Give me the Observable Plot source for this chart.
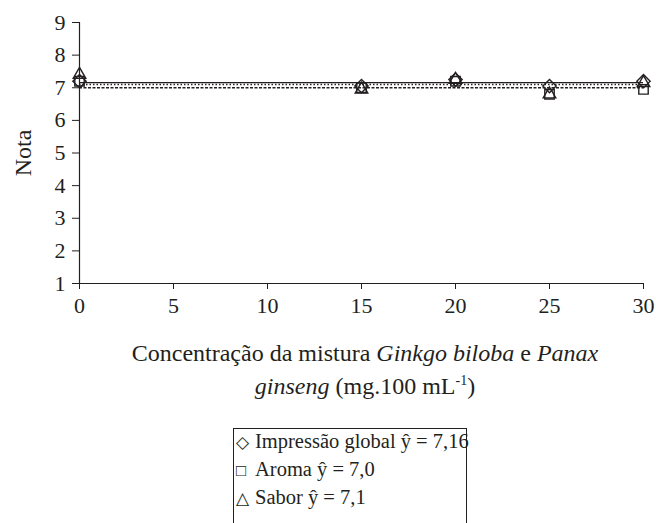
<!DOCTYPE html>
<html>
<head>
<meta charset="utf-8">
<script src="https://cdn.jsdelivr.net/npm/d3@7"></script>
<script src="https://cdn.jsdelivr.net/npm/@observablehq/plot@0.6"></script>
<style>
  body { margin: 0; background: #fff; font-family: 'Liberation Serif', serif; color: #231f20; }
  #wrap { position: relative; width: 656px; height: 523px; overflow: hidden; }
  #chart svg { font-family: 'Liberation Serif', serif !important; }
  #xlabel { position: absolute; left: 40px; width: 650px; top: 340px; text-align: center; font-size: 24px; line-height: 27px; }
  #legend { position: absolute; left: 233px; top: 428px; width: 232px; height: 110px; border: 1.2px solid #231f20; font-size: 20.5px; }
  #legend div { position: absolute; left: 2px; white-space: nowrap; }
  #legend .sym { display: inline-block; width: 19px; font-size: 17px; }
</style>
</head>
<body>
<div id="wrap">
  <div id="chart"></div>
  <div id="xlabel">Concentração da mistura <i>Ginkgo biloba</i> e <i>Panax</i><br><i>ginseng</i> (mg.100 mL<sup style="font-size:14px">-1</sup>)</div>
  <div id="legend"></div>
</div>
<script>
const concentrations = [0, 15, 20, 25, 30];
const impressaoGlobal = [7.2, 7.05, 7.25, 7.05, 7.2];
const aroma = [7.2, 7.0, 7.2, 6.8, 6.95];
const sabor = [7.4, 6.95, 7.25, 6.8, 7.15];
const seriesNames = ["Impressão global", "Aroma", "Sabor"];
const seriesMeans = [7.16, 7.0, 7.1];
const meanLabels = ["7,16", "7,0", "7,1"];
const seriesSymbols = ["diamond2", "square2", "triangle2"];
const legendGlyphs = ["◇", "□", "△"];
const xTicks = [0, 5, 10, 15, 20, 25, 30];
const yTicks = [1, 2, 3, 4, 5, 6, 7, 8, 9];

const seriesValues = [impressaoGlobal, aroma, sabor];
const points = [];
seriesValues.forEach((vals, i) => vals.forEach((v, j) => points.push({x: concentrations[j], y: v, s: seriesNames[i]})));
const means = seriesNames.map((s, i) => ({s, y: seriesMeans[i]}));

const ink = "#231f20";
const chart = Plot.plot({
  width: 656,
  height: 330,
  marginLeft: 79,
  marginRight: 13,
  marginTop: 22,
  marginBottom: 47,
  style: {fontFamily: "'Liberation Serif', serif", fontSize: "22px", color: ink, background: "#fff"},
  x: {domain: [0, 30]},
  y: {domain: [1, 9]},
  symbol: {domain: seriesNames, range: seriesSymbols},
  marks: [
    Plot.axisX({ticks: xTicks, tickSize: 6, tickPadding: 8, stroke: ink, fill: ink, fontSize: 22, label: null}),
    Plot.axisY({ticks: yTicks, tickSize: 7, tickPadding: 7, stroke: ink, fill: ink, fontSize: 22, label: "Nota", labelAnchor: "center", labelOffset: 66, labelArrow: "none", labelFontSize: 24}),
    Plot.ruleY([1], {stroke: ink, strokeWidth: 1.2}),
    Plot.ruleX([0], {stroke: ink, strokeWidth: 1.2}),
    Plot.ruleY(means.slice(0, 1), {y: "y", x1: 0, x2: 30, stroke: ink, strokeWidth: 1.3}),
    Plot.ruleY(means.slice(1, 2), {y: "y", x1: 0, x2: 30, stroke: ink, strokeWidth: 1.3, strokeDasharray: "3,1.5"}),
    Plot.ruleY(means.slice(2, 3), {y: "y", x1: 0, x2: 30, stroke: ink, strokeWidth: 1.3, strokeDasharray: "1.5,2"}),
    Plot.dot(points, {x: "x", y: "y", symbol: "s", r: 6, stroke: ink, strokeWidth: 1.4, fill: "none"})
  ]
});
document.getElementById("chart").appendChild(chart);
// enlarge the y-axis title to match the reference
chart.querySelectorAll("[aria-label='y-axis label'] text, [aria-label='y-axis label']").forEach(el => el.setAttribute("font-size", 24));

const legend = document.getElementById("legend");
seriesNames.forEach((name, i) => {
  const row = document.createElement("div");
  row.style.top = (1 + i * 28) + "px";
  row.innerHTML = `<span class="sym">${legendGlyphs[i]}</span>${name} ŷ = ${meanLabels[i]}`;
  legend.appendChild(row);
});
</script>
</body>
</html>
